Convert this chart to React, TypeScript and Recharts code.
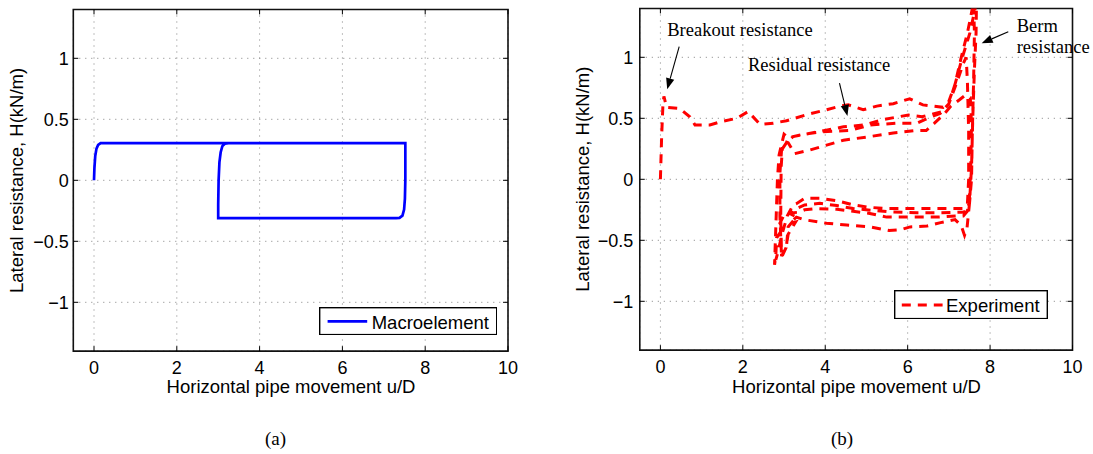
import React from 'react';
import {
  LineChart,
  Line,
  XAxis,
  YAxis,
  CartesianGrid,
  ReferenceArea,
  ReferenceLine,
  ReferenceDot,
  Legend,
} from 'recharts';

const FONT_SANS = '"Liberation Sans", Arial, Helvetica, sans-serif';
const FONT_SERIF = '"Liberation Serif", "Times New Roman", Times, serif';

const X_TICKS = [0, 2, 4, 6, 8, 10];
const Y_TICKS = [-1, -0.5, 0, 0.5, 1];
const X_DOMAIN: [number, number] = [-0.5, 10];
const Y_DOMAIN: [number, number] = [-1.4, 1.4];

const X_LABEL = 'Horizontal pipe movement u/D';
const Y_LABEL = 'Lateral resistance, H(kN/m)';

// Panel (a): Macroelement  [u/D, H]
const macroInitial = [[0, 0], [0.01, 0.1], [0.03, 0.2], [0.06, 0.26], [0.1, 0.29], [0.16, 0.305], [7.52, 0.305]];
const macroUnload = [[7.52, 0.2], [7.52, 0.0], [7.51, -0.15], [7.49, -0.24], [7.45, -0.29], [7.38, -0.308], [7.3, -0.31], [3.0, -0.31]];
const macroReload = [[3.0, -0.2], [3.01, 0.0], [3.03, 0.15], [3.06, 0.23], [3.1, 0.28], [3.16, 0.3], [3.25, 0.305], [7.52, 0.305]];

// Panel (b): Experiment  [u/D, H]
const expInitial = [[0, 0], [0.03, 0.35], [0.06, 0.6], [0.085, 0.68], [0.15, 0.59], [0.47, 0.58], [0.72, 0.51], [0.84, 0.445], [1.2, 0.445], [1.44, 0.47], [1.85, 0.5], [2.13, 0.555], [2.42, 0.45], [2.74, 0.46], [3.06, 0.48], [3.55, 0.53], [4.03, 0.57], [4.36, 0.6], [4.56, 0.61], [4.92, 0.57], [5.25, 0.6], [5.65, 0.62], [6.05, 0.66], [6.37, 0.61], [6.86, 0.59], [7.0, 0.64], [7.15, 0.78], [7.31, 0.98], [7.51, 1.2], [7.67, 1.45]];
const expCycle1Down = [[7.66, 1.2], [7.62, 0.9], [7.58, 0.5], [7.55, 0.1], [7.5, -0.2], [7.44, -0.4], [7.38, -0.46], [7.3, -0.38], [7.15, -0.33]];
const expCycle1Neg = [[6.8, -0.355], [6.47, -0.383], [6.06, -0.39], [5.81, -0.415], [5.55, -0.42], [5.08, -0.39], [4.52, -0.375], [4.03, -0.36], [3.47, -0.33], [3.3, -0.31], [3.14, -0.36], [3.28, -0.35], [3.1, -0.45], [3.05, -0.56], [2.94, -0.64]];
const expCycle1Pos = [[2.9, -0.3], [2.9, 0.05], [2.94, 0.24], [3.02, 0.31], [3.1, 0.3], [3.26, 0.21], [3.63, 0.24], [4.44, 0.32], [5.08, 0.35], [5.65, 0.38], [6.22, 0.4], [6.45, 0.4], [6.65, 0.46], [6.87, 0.53], [7.05, 0.6], [7.25, 0.65], [7.4, 0.69], [7.52, 0.67]];
const expCycle2Down = [[7.55, 0.45], [7.53, 0.1], [7.5, -0.15], [7.45, -0.26], [7.35, -0.3], [7.2, -0.3]];
const expCycle2Neg = [[6.7, -0.31], [6.22, -0.31], [5.49, -0.31], [5.08, -0.28], [4.28, -0.245], [3.8, -0.24], [3.5, -0.25], [3.35, -0.27], [3.02, -0.28], [2.9, -0.36], [2.98, -0.4], [2.82, -0.48], [2.8, -0.63], [2.77, -0.7]];
const expCycle2Pos = [[2.8, -0.4], [2.84, 0.0], [2.88, 0.2], [2.95, 0.3], [3.0, 0.37], [3.1, 0.34], [3.47, 0.37], [3.95, 0.39], [4.6, 0.4], [5.09, 0.445], [5.73, 0.46], [6.22, 0.46], [6.55, 0.51], [6.79, 0.54], [7.0, 0.62], [7.2, 0.8], [7.35, 0.95], [7.42, 1.0]];
const expCycle3Down = [[7.45, 0.8], [7.48, 0.4], [7.48, 0.0], [7.45, -0.2], [7.38, -0.27], [7.25, -0.27]];
const expCycle3Neg = [[6.7, -0.275], [6.22, -0.275], [5.49, -0.265], [4.68, -0.24], [4.28, -0.215], [3.87, -0.197], [3.5, -0.21], [3.3, -0.24], [3.14, -0.28], [3.3, -0.31], [3.1, -0.39], [3.06, -0.55], [2.94, -0.63]];
const expCycle3Pos = [[2.92, -0.3], [2.93, 0.1], [2.96, 0.25], [3.06, 0.3], [3.22, 0.35], [3.84, 0.39], [4.44, 0.43], [4.93, 0.445], [5.41, 0.49], [6.02, 0.527], [6.35, 0.513], [6.83, 0.554], [7.0, 0.62], [7.15, 0.78], [7.3, 1.0], [7.45, 1.2], [7.6, 1.45]];
const expCycle4Down = [[7.62, 1.2], [7.6, 0.8], [7.57, 0.4], [7.55, 0.0], [7.5, -0.2], [7.42, -0.24], [7.3, -0.24]];
const expCycle4Neg = [[6.22, -0.24], [5.49, -0.24], [5.08, -0.23], [4.68, -0.21], [4.28, -0.175], [3.87, -0.156], [3.5, -0.156], [3.3, -0.2], [3.22, -0.21], [3.08, -0.3], [2.95, -0.45], [2.85, -0.6], [2.8, -0.66]];

// Annotations (panel b): arrow tail -> tip, text anchor (left, baseline)
const annotations = [
  { lines: ['Breakout resistance'], text: [0.167, 1.177], tail: [0.456, 1.087], tip: [0.165, 0.738] },
  { lines: ['Residual resistance'], text: [2.124, 0.89], tail: [4.345, 0.789], tip: [4.539, 0.519] },
  { lines: ['Berm', 'resistance'], text: [8.646, 1.21], tail: [8.442, 1.21], tip: [7.796, 1.115] },
];

const toPoints = (arrs: number[][][]) => arrs.flat().map(([u, H]) => ({ u, H }));

const macroData = toPoints([macroInitial, macroUnload, macroReload]);
const expData = toPoints([
  expInitial, expCycle1Down, expCycle1Neg, expCycle1Pos, expCycle2Down, expCycle2Neg, expCycle2Pos,
  expCycle3Down, expCycle3Neg, expCycle3Pos, expCycle4Down, expCycle4Neg,
]);

const fmt = (v: number) => String(v).replace('-', '\u2212');

const arrowShape = (props: any) => {
  const { x1, y1, x2, y2 } = props;
  if ([x1, y1, x2, y2].some((v) => typeof v !== 'number' || isNaN(v))) return <g />;
  const dx = x2 - x1;
  const dy = y2 - y1;
  const len = Math.hypot(dx, dy) || 1;
  const ux = dx / len;
  const uy = dy / len;
  const hl = 11;
  const hw = 4.2;
  const bx = x2 - ux * hl;
  const by = y2 - uy * hl;
  return (
    <g>
      <line x1={x1} y1={y1} x2={bx} y2={by} stroke="#000" strokeWidth={1.1} />
      <polygon
        points={`${x2},${y2} ${bx - uy * hw},${by + ux * hw} ${bx + uy * hw},${by - ux * hw}`}
        fill="#000"
      />
    </g>
  );
};

const Y_AXIS_W = 60;
const X_AXIS_H = 30;
const CHART_H = 454;

type PanelCfg = {
  left: number;
  width: number;
  margin: { top: number; right: number; bottom: number; left: number };
  yTickMargin: number;
  data: { u: number; H: number }[];
  name: string;
  color: string;
  lineWidth: number;
  dash?: string;
  caption: string;
  xLabel: { x: number; y: number };
  yLabel: { x: number; y: number };
  captionPos: { x: number; y: number };
  legend: { left: number; top: number; w: number; h: number; lx1: number; lx2: number; ly: number; tx: number; ty: number };
  withAnnotations: boolean;
};

function Panel({ cfg }: { cfg: PanelCfg }) {
  const { margin, legend } = cfg;
  const tickStyle = { fontSize: 18, fill: '#000', fontFamily: FONT_SANS };

  const xLabelContent = () => (
    <g>
      <text x={cfg.xLabel.x} y={cfg.xLabel.y} textAnchor="middle" fontSize={18.5} fontFamily={FONT_SANS} fill="#000">
        {X_LABEL}
      </text>
      <text x={cfg.captionPos.x} y={cfg.captionPos.y} textAnchor="middle" fontSize={19} fontFamily={FONT_SERIF} fill="#000">
        {cfg.caption}
      </text>
    </g>
  );
  const yLabelContent = () => (
    <text
      x={cfg.yLabel.x}
      y={cfg.yLabel.y}
      transform={`rotate(-90, ${cfg.yLabel.x}, ${cfg.yLabel.y})`}
      textAnchor="middle"
      fontSize={18.5}
      fontFamily={FONT_SANS}
      fill="#000"
    >
      {Y_LABEL}
    </text>
  );

  const legendContent = () => (
    <svg width={legend.w} height={legend.h} style={{ display: 'block' }}>
      <rect x={0.7} y={0.7} width={legend.w - 1.4} height={legend.h - 1.4} fill="#fff" stroke="#000" strokeWidth={1.4} />
      <line
        x1={legend.lx1}
        x2={legend.lx2}
        y1={legend.ly}
        y2={legend.ly}
        stroke={cfg.color}
        strokeWidth={cfg.lineWidth}
        strokeDasharray={cfg.dash}
      />
      <text x={legend.tx} y={legend.ty} fontSize={18.5} fontFamily={FONT_SANS} fill="#000">
        {cfg.name}
      </text>
    </svg>
  );

  const tickLen = 0.04;
  const tickLenX = 0.12;

  return (
    <div style={{ position: 'absolute', left: cfg.left, top: 0 }}>
      <LineChart width={cfg.width} height={CHART_H} margin={margin}>
        <CartesianGrid stroke="#808080" strokeDasharray="1 5" strokeWidth={1} />
        <XAxis
          type="number"
          dataKey="u"
          domain={X_DOMAIN}
          ticks={X_TICKS}
          allowDataOverflow
          interval={0}
          axisLine={false}
          tickLine={false}
          tickSize={0}
          tickMargin={10.5}
          height={X_AXIS_H}
          tick={tickStyle}
          label={xLabelContent}
        />
        <YAxis
          type="number"
          dataKey="H"
          domain={Y_DOMAIN}
          ticks={Y_TICKS}
          allowDataOverflow
          interval={0}
          axisLine={false}
          tickLine={false}
          tickSize={0}
          tickMargin={cfg.yTickMargin}
          width={Y_AXIS_W}
          tick={tickStyle}
          tickFormatter={fmt}
          label={yLabelContent}
        />
        {X_TICKS.map((t) => (
          <ReferenceLine
            key={`xb${t}`}
            segment={[{ x: t, y: Y_DOMAIN[0] }, { x: t, y: Y_DOMAIN[0] + tickLen }]}
            stroke="#000"
            strokeWidth={1}
            ifOverflow="visible"
          />
        ))}
        {X_TICKS.map((t) => (
          <ReferenceLine
            key={`xt${t}`}
            segment={[{ x: t, y: Y_DOMAIN[1] }, { x: t, y: Y_DOMAIN[1] - tickLen }]}
            stroke="#000"
            strokeWidth={1}
            ifOverflow="visible"
          />
        ))}
        {Y_TICKS.map((t) => (
          <ReferenceLine
            key={`yl${t}`}
            segment={[{ x: X_DOMAIN[0], y: t }, { x: X_DOMAIN[0] + tickLenX, y: t }]}
            stroke="#000"
            strokeWidth={1}
            ifOverflow="visible"
          />
        ))}
        {Y_TICKS.map((t) => (
          <ReferenceLine
            key={`yr${t}`}
            segment={[{ x: X_DOMAIN[1], y: t }, { x: X_DOMAIN[1] - tickLenX, y: t }]}
            stroke="#000"
            strokeWidth={1}
            ifOverflow="visible"
          />
        ))}
        <Line
          data={cfg.data}
          dataKey="H"
          name={cfg.name}
          type="linear"
          stroke={cfg.color}
          strokeWidth={cfg.lineWidth}
          strokeDasharray={cfg.dash}
          dot={false}
          activeDot={false}
          isAnimationActive={false}
        />
        <ReferenceArea
          x1={X_DOMAIN[0]}
          x2={X_DOMAIN[1]}
          y1={Y_DOMAIN[0]}
          y2={Y_DOMAIN[1]}
          fill="none"
          fillOpacity={0}
          stroke="#111"
          strokeWidth={1.6}
          ifOverflow="visible"
        />
        {cfg.withAnnotations &&
          annotations.map((a, i) => (
            <ReferenceLine
              key={`arrow${i}`}
              segment={[{ x: a.tail[0], y: a.tail[1] }, { x: a.tip[0], y: a.tip[1] }]}
              ifOverflow="visible"
              shape={arrowShape}
            />
          ))}
        {cfg.withAnnotations &&
          annotations.map((a, i) => (
            <ReferenceDot
              key={`text${i}`}
              x={a.text[0]}
              y={a.text[1]}
              r={0}
              ifOverflow="visible"
              shape={(p: any) => (
                <text x={p.cx} y={p.cy} fontSize={18.5} fontFamily={FONT_SERIF} fill="#000">
                  {a.lines.map((ln, j) => (
                    <tspan key={j} x={p.cx} dy={j === 0 ? 0 : 21.6}>
                      {ln}
                    </tspan>
                  ))}
                </text>
              )}
            />
          ))}
        <Legend
          layout="horizontal"
          align="center"
          verticalAlign="middle"
          content={legendContent}
          wrapperStyle={{ left: legend.left, top: legend.top, width: legend.w, height: legend.h, bottom: 'auto', right: 'auto' }}
        />
      </LineChart>
    </div>
  );
}

const panelA: PanelCfg = {
  left: 0,
  width: 560,
  margin: { top: 9.5, right: 52, bottom: CHART_H - 351.1 - X_AXIS_H, left: 73.3 - Y_AXIS_W },
  yTickMargin: 4.5,
  data: macroData,
  name: 'Macroelement',
  color: '#0000ff',
  lineWidth: 2.7,
  caption: '(a)',
  xLabel: { x: 291, y: 393.3 },
  yLabel: { x: 22.8, y: 180.4 },
  captionPos: { x: 275.5, y: 445 },
  legend: { left: 318.5, top: 306.7, w: 178.4, h: 28.3, lx1: 8.6, lx2: 48.2, ly: 14.3, tx: 52.7, ty: 21.6 },
  withAnnotations: false,
};

const panelB: PanelCfg = {
  left: 560,
  width: 533,
  margin: { top: 8.5, right: 533 - 512.5, bottom: CHART_H - 350.1 - X_AXIS_H, left: 79.8 - Y_AXIS_W },
  yTickMargin: 6.5,
  data: expData,
  name: 'Experiment',
  color: '#ff0000',
  lineWidth: 3,
  dash: '9 7',
  caption: '(b)',
  xLabel: { x: 296.5, y: 393.3 },
  yLabel: { x: 29, y: 179.2 },
  captionPos: { x: 282, y: 445 },
  legend: { left: 333.8, top: 290, w: 154, h: 29.3, lx1: 7.8, lx2: 48.6, ly: 15, tx: 52, ty: 21.7 },
  withAnnotations: true,
};

export default function App() {
  return (
    <div style={{ position: 'absolute', left: 0, top: 0, width: 1093, height: 454, background: '#fff', overflow: 'hidden' }}>
      <Panel cfg={panelA} />
      <Panel cfg={panelB} />
    </div>
  );
}
